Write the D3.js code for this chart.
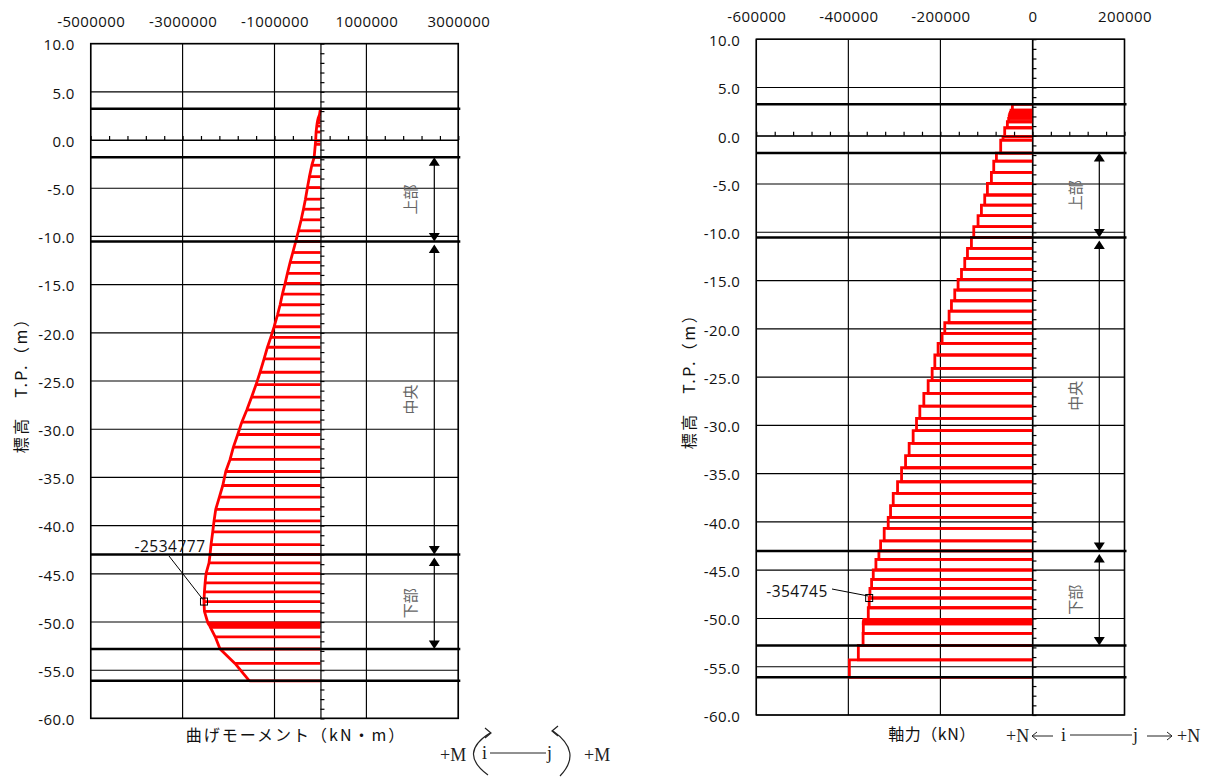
<!DOCTYPE html>
<html><head><meta charset="utf-8">
<script src="https://cdn.jsdelivr.net/npm/d3@7"></script>
<style>body{margin:0;background:#fff;} svg{display:block;}</style>
</head><body><svg id="c" width="1213" height="781"></svg>
<script>
// ---- data ----
const nodeElev = [3.25, 2.66, 2.45, 2.25, 2.05, 1.8, 1.45, 0.83, -0.1, -0.45,
  -1.8, -2.62, -3.8, -4.93, -6.14, -7.18, -8.28, -9.42, -10.53, -11.67,
  -12.7, -13.84, -14.87, -15.98, -17.09, -18.16, -19.37, -20.47, -21.5, -22.71,
  -24.09, -25.37, -26.68, -28.0, -29.27, -30.55, -31.86, -33.14, -34.39, -35.84,
  -37.04, -38.32, -39.52, -40.66, -41.97, -43.0, -43.87, -44.98, -45.95, -46.88,
  -47.88, -48.89, -50.1, -50.25, -50.4, -50.55, -51.54, -52.8, -54.3, -56.1];
// bending moment at each node (kN·m)
const bendingMoment = [0, -20000, -35000, -50000, -60000, -70000, -80000, -95000, -105000, -112000,
  -137000, -188000, -240000, -283000, -327000, -370000, -420000, -479000, -537000, -602000,
  -660000, -719000, -769000, -828000, -878000, -936000, -1008000, -1081000, -1154000, -1227000,
  -1314000, -1401000, -1500000, -1603000, -1712000, -1800000, -1895000, -1967000, -2061000, -2126000,
  -2200000, -2279000, -2316000, -2345000, -2381000, -2403000, -2425000, -2490000, -2510000, -2525000,
  -2534777, -2525000, -2450000, -2430000, -2410000, -2395000, -2290000, -2185000, -1860000, -1547000];
// axial force for each element between consecutive nodes (kN)
const axialForce = [-43600, -46500, -48000, -49500, -50500, -51600, -54500, -60300, -64000, -69000,
  -78300, -84100, -89200, -97900, -103700, -110900, -118200, -127500, -132600, -141200,
  -147100, -154200, -161600, -168800, -176000, -181100, -190500, -196300, -205000, -212100,
  -217900, -226600, -236000, -244700, -251900, -259200, -267900, -275700, -284400, -293100,
  -302500, -308300, -313400, -322100, -329900, -333600, -340100, -345900, -349500, -353100,
  -354745, -356700, -366000, -367000, -367500, -367500, -368000, -378300, -397800];
const levelLines = [3.25, -1.8, -10.53, -43.0, -52.8, -56.1];
const zoneNames = ["上部", "中央", "下部"];
const zoneTop = [-1.8, -10.53, -43.0];
const zoneBottom = [-10.53, -43.0, -52.8];
const yTicks = [10, 5, 0, -5, -10, -15, -20, -25, -30, -35, -40, -45, -50, -55, -60];
const momentTicks = [-5000000, -3000000, -1000000, 1000000, 3000000];
const axialTicks = [-600000, -400000, -200000, 0, 200000];
const momentPeakElev = -47.88, momentPeakValue = -2534777;
const axialPeakElev = -47.88, axialPeakValue = -354745;

// ---- drawing ----
const svg = d3.select("#c");
const RED = "#ff0000";
const LABEL_FONT = "'Open Sans', 'Liberation Sans', sans-serif";
const CJK_FONT = "'Noto Sans CJK JP', 'Noto Sans', sans-serif";
const SERIF = "'Liberation Serif', 'DejaVu Serif', serif";

function panel(o) {
  const g = svg.append("g");
  const x = d3.scaleLinear().domain(o.xDomain).range(o.xRange);
  const y = d3.scaleLinear().domain([10, -60]).range(o.yRange);
  const [x0, x1] = o.xRange, [y0, y1] = o.yRange;

  // grid
  g.append("g").selectAll("line").data(o.xTicks).join("line")
    .attr("x1", d => x(d)).attr("x2", d => x(d)).attr("y1", y0).attr("y2", y1)
    .attr("stroke", "#000").attr("stroke-width", 1.15);
  g.append("g").selectAll("line").data(yTicks).join("line")
    .attr("x1", x0).attr("x2", x1).attr("y1", d => y(d)).attr("y2", d => y(d))
    .attr("stroke", "#000").attr("stroke-width", 1.15);

  // data
  o.drawData(g, x, y);

  // elevation level lines
  g.append("g").selectAll("line").data(levelLines).join("line")
    .attr("x1", x0).attr("x2", x1 + 2).attr("y1", d => y(d)).attr("y2", d => y(d))
    .attr("stroke", "#000").attr("stroke-width", 2.5);

  // zero axes with minor ticks
  const ya = g.append("g").attr("transform", `translate(${x(0)},0)`)
    .call(d3.axisRight(y).tickValues(d3.range(10, -60.5, -1)).tickSize(4).tickSizeOuter(0).tickFormat(""));
  const xa = g.append("g").attr("transform", `translate(0,${y(0)})`)
    .call(d3.axisTop(x).tickValues(o.minorX).tickSize(4).tickSizeOuter(0).tickFormat(""));
  [ya, xa].forEach(a => { a.selectAll("path,line").attr("stroke", "#000").attr("stroke-width", 1.2); });

  // border
  g.append("rect").attr("x", x0).attr("y", y0).attr("width", x1 - x0).attr("height", y1 - y0)
    .attr("fill", "none").attr("stroke", "#000").attr("stroke-width", 1.5);

  // labels
  const top = g.append("g").attr("transform", `translate(0,${y0})`)
    .call(d3.axisTop(x).tickValues(o.xTicks).tickSize(0).tickPadding(17).tickFormat(d => String(d)));
  top.select(".domain").remove();
  top.selectAll("text").attr("font-family", LABEL_FONT).attr("font-size", 15)
    .attr("letter-spacing", 0.4).attr("fill", "#111");
  const left = g.append("g").attr("transform", `translate(${x0},0)`)
    .call(d3.axisLeft(y).tickValues(yTicks).tickSize(0).tickPadding(16).tickFormat(d => d.toFixed(1)));
  left.select(".domain").remove();
  left.selectAll("text").attr("font-family", LABEL_FONT).attr("font-size", 15)
    .attr("letter-spacing", 0.4).attr("fill", "#111").attr("dy", "0.42em");

  // y title
  g.append("text").attr("transform", `translate(${o.yTitleX},${(y0 + y1) / 2}) rotate(-90)`)
    .attr("text-anchor", "middle").attr("dominant-baseline", "central")
    .attr("font-family", CJK_FONT).attr("font-size", 16).attr("letter-spacing", 2.5)
    .attr("fill", "#111").text("標高　T.P.（m）");
  // x title
  g.append("text").attr("x", o.xTitleX).attr("y", o.xTitleY).attr("text-anchor", "middle")
    .attr("font-family", CJK_FONT).attr("font-size", 16).attr("letter-spacing", o.xTitleSpacing)
    .attr("fill", "#111").text(o.xTitle);

  // zone brackets
  const ax = o.bracketX;
  zoneNames.forEach((nm, i) => {
    const ta = y(zoneTop[i]) + (i === 0 ? 0 : 3), tb = y(zoneBottom[i]);
    g.append("line").attr("x1", ax).attr("x2", ax).attr("y1", ta + 6).attr("y2", tb - 6)
      .attr("stroke", "#000").attr("stroke-width", 1.2);
    g.append("path").attr("d", `M${ax},${ta} L${ax - 5.5},${ta + 8.5} L${ax + 5.5},${ta + 8.5} Z`).attr("fill", "#000");
    g.append("path").attr("d", `M${ax},${tb} L${ax - 5.5},${tb - 8.5} L${ax + 5.5},${tb - 8.5} Z`).attr("fill", "#000");
    g.append("text").attr("transform", `translate(${ax - 25},${(ta + tb) / 2}) rotate(-90)`)
      .attr("text-anchor", "middle").attr("dominant-baseline", "central")
      .attr("font-family", CJK_FONT).attr("font-size", 15).attr("fill", "#666").text(nm);
  });

  // peak annotation
  const px = x(o.peakValue), py = y(o.peakElev);
  g.append("rect").attr("x", px - 3.5).attr("y", py - 3.5).attr("width", 7).attr("height", 7)
    .attr("fill", "none").attr("stroke", "#000").attr("stroke-width", 1);
  g.append("line").attr("x1", o.leader[0]).attr("y1", o.leader[1]).attr("x2", px - 1).attr("y2", py - 2)
    .attr("stroke", "#000").attr("stroke-width", 1);
  g.append("text").attr("x", o.peakLabel[0]).attr("y", o.peakLabel[1]).attr("text-anchor", "middle")
    .attr("font-family", LABEL_FONT).attr("font-size", 15.5).attr("letter-spacing", 0.5)
    .attr("fill", "#111").text(String(o.peakValue));
  return { x, y };
}

// left: bending moment
panel({
  xDomain: [-5000000, 3000000], xRange: [90.7, 458.3], yRange: [43.6, 718.4],
  xTicks: momentTicks, minorX: d3.range(-5000000, 3000001, 400000),
  yTitleX: 20, xTitle: "曲げモーメント（kN・m）", xTitleX: 296, xTitleY: 741, xTitleSpacing: 2,
  bracketX: 434.3, peakValue: momentPeakValue, peakElev: momentPeakElev,
  leader: [169, 556], peakLabel: [170, 551.5],
  drawData: (g, x, y) => {
    const pts = nodeElev.map((z, i) => [bendingMoment[i], z]);
    g.append("g").selectAll("line").data(pts.filter(p => p[0] !== 0)).join("line")
      .attr("x1", x(0)).attr("x2", d => x(d[0])).attr("y1", d => y(d[1])).attr("y2", d => y(d[1]))
      .attr("stroke", RED).attr("stroke-width", 2.8);
    g.append("path").datum(pts)
      .attr("d", d3.line().x(d => x(d[0])).y(d => y(d[1])))
      .attr("fill", "none").attr("stroke", RED).attr("stroke-width", 2.8).attr("stroke-linejoin", "round");
  }
});

// right: axial force
panel({
  xDomain: [-600000, 200000], xRange: [756.3, 1124.5], yRange: [39.2, 715],
  xTicks: axialTicks, minorX: d3.range(-600000, 200001, 40000),
  yTitleX: 688, xTitle: "軸力（kN）", xTitleX: 932, xTitleY: 740, xTitleSpacing: 0.5,
  bracketX: 1099.3, peakValue: axialPeakValue, peakElev: axialPeakElev,
  leader: [832, 589], peakLabel: [797, 597],
  drawData: (g, x, y) => {
    const els = axialForce.map((v, i) => ({ v, a: nodeElev[i], b: nodeElev[i + 1] }));
    g.append("g").selectAll("path").data(els).join("path")
      .attr("d", d => `M${x(0)},${y(d.a)} H${x(d.v)} V${y(d.b)} H${x(0)}`)
      .attr("fill", "none").attr("stroke", RED).attr("stroke-width", 2.8);
  }
});

// sign convention legends
const lg = svg.append("g").attr("font-family", SERIF).attr("font-size", 18).attr("fill", "#222");
lg.append("text").attr("x", 440).attr("y", 761).text("+M");
lg.append("text").attr("x", 482).attr("y", 759).text("i");
lg.append("text").attr("x", 547).attr("y", 759).text("j");
lg.append("text").attr("x", 584).attr("y", 761).text("+M");
lg.append("line").attr("x1", 490).attr("x2", 546).attr("y1", 753).attr("y2", 753).attr("stroke", "#222").attr("stroke-width", 1);
lg.append("path").attr("d", "M490,733 Q458,753 488,775").attr("fill", "none").attr("stroke", "#222").attr("stroke-width", 1.2);
lg.append("path").attr("d", "M485,728 L491,733 L485,738").attr("fill", "none").attr("stroke", "#222").attr("stroke-width", 1.2);
lg.append("path").attr("d", "M553,731 Q583,752 560,776").attr("fill", "none").attr("stroke", "#222").attr("stroke-width", 1.2);
lg.append("path").attr("d", "M558,726 L552,731 L558,736").attr("fill", "none").attr("stroke", "#222").attr("stroke-width", 1.2);

lg.append("text").attr("x", 1006).attr("y", 742).text("+N");
lg.append("text").attr("x", 1061).attr("y", 741).text("i");
lg.append("text").attr("x", 1133).attr("y", 741).text("j");
lg.append("text").attr("x", 1177).attr("y", 742).text("+N");
lg.append("line").attr("x1", 1070).attr("x2", 1132).attr("y1", 735).attr("y2", 735).attr("stroke", "#222").attr("stroke-width", 1);
lg.append("path").attr("d", "M1032,736 H1053 M1037,732 L1032,736 L1037,740").attr("fill", "none").attr("stroke", "#222").attr("stroke-width", 1);
lg.append("path").attr("d", "M1147,736 H1172 M1167,732 L1172,736 L1167,740").attr("fill", "none").attr("stroke", "#222").attr("stroke-width", 1);
</script>
</body></html>
